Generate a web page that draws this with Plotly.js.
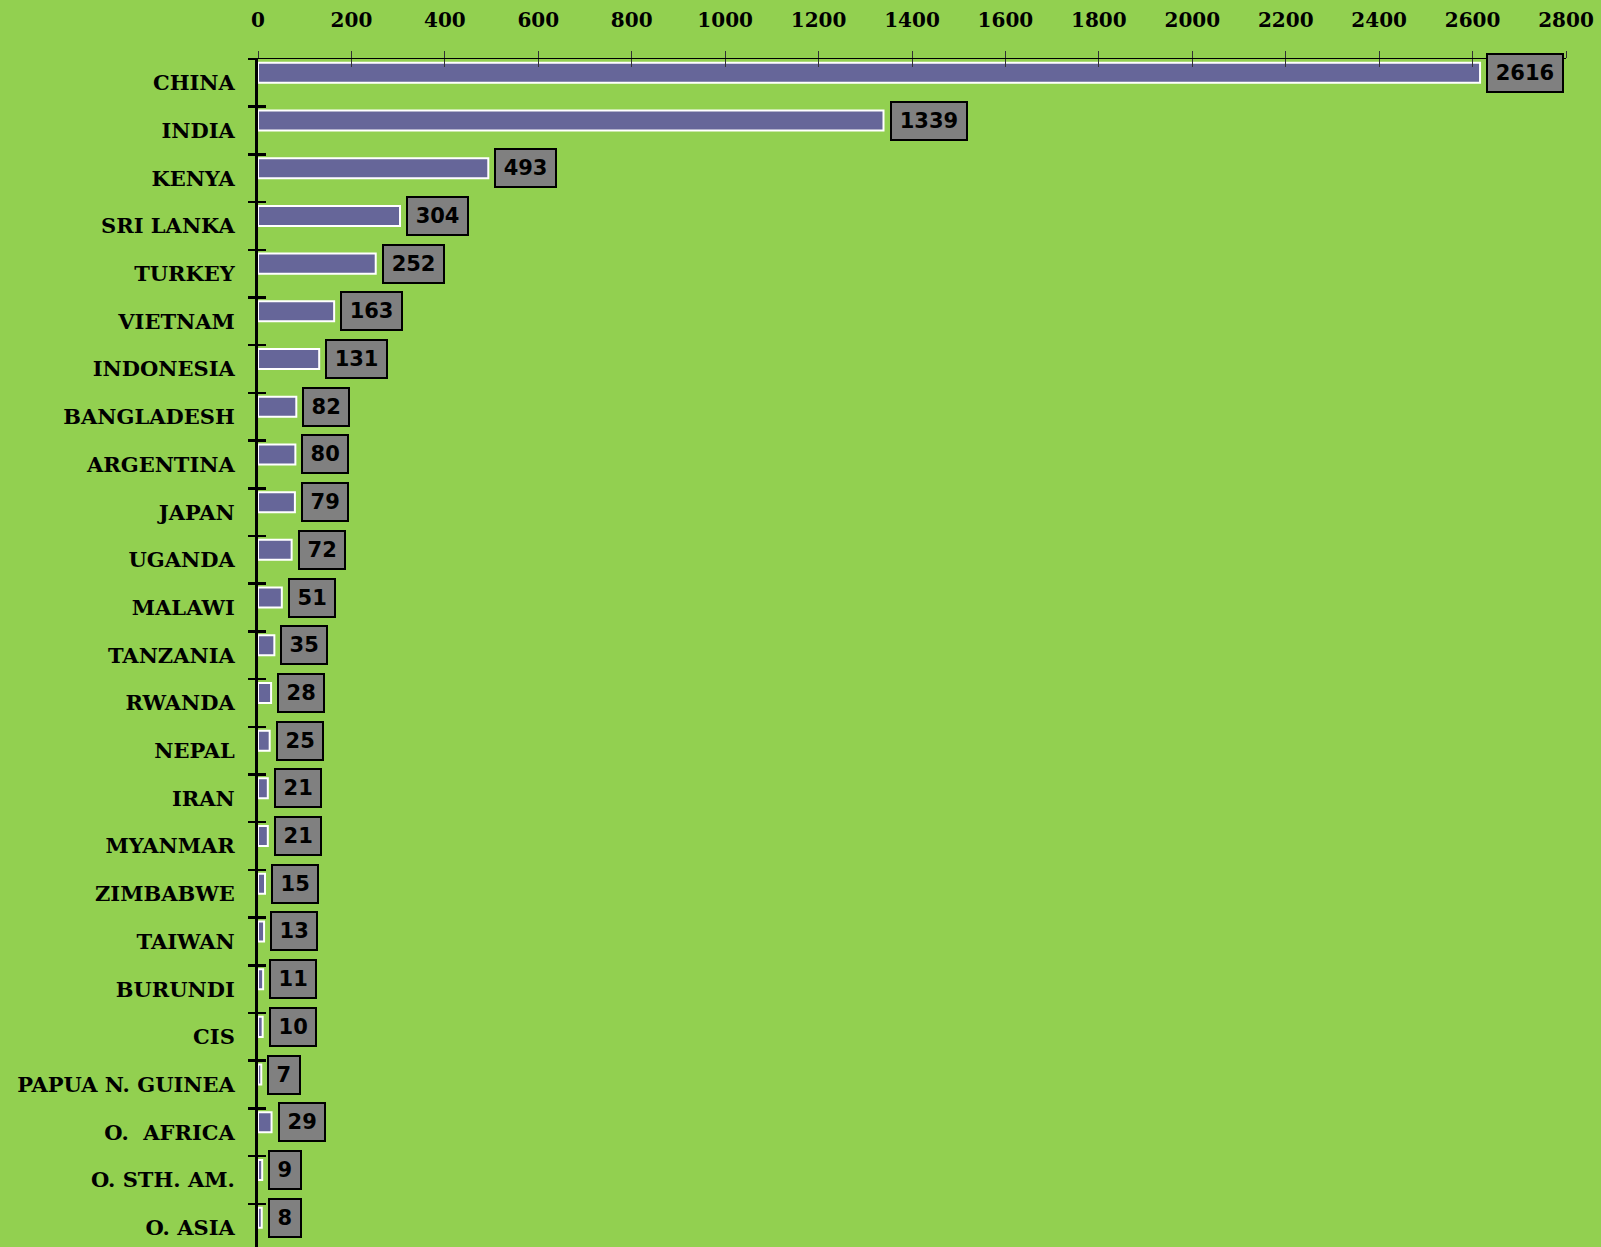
<!DOCTYPE html>
<html>
<head>
<meta charset="utf-8">
<script src="https://cdn.plot.ly/plotly-3.0.1.min.js"></script>
<style>html,body{margin:0;padding:0;background:#92D050;}#chart{width:1601px;height:1247px;}</style>
</head>
<body>
<div id="chart"></div>
<script>
const countries = ["CHINA","INDIA","KENYA","SRI LANKA","TURKEY","VIETNAM","INDONESIA","BANGLADESH","ARGENTINA","JAPAN","UGANDA","MALAWI","TANZANIA","RWANDA","NEPAL","IRAN","MYANMAR","ZIMBABWE","TAIWAN","BURUNDI","CIS","PAPUA N. GUINEA","O.  AFRICA","O. STH. AM.","O. ASIA"];
const values = [2616,1339,493,304,252,163,131,82,80,79,72,51,35,28,25,21,21,15,13,11,10,7,29,9,8];
const xTickValues = [0,200,400,600,800,1000,1200,1400,1600,1800,2000,2200,2400,2600,2800];

const bg = "#92D050";
const yRange = [24.405, -0.5];
const xRange = [0, 2800];

const bars = {
  type: "bar", orientation: "h",
  x: values, y: countries,
  width: 0.42, offset: -0.42,
  marker: {color: "#666699", line: {color: "#ffffff", width: 2}},
  hoverinfo: "skip", xaxis: "x", yaxis: "y"
};
const ghost = {
  type: "bar", orientation: "h",
  x: values, y: countries,
  width: 0.42, offset: -0.42,
  marker: {color: "rgba(0,0,0,0)"},
  hoverinfo: "skip", xaxis: "x2", yaxis: "y2"
};

const annotations = values.map((v, i) => ({
  x: v, y: countries[i], xref: "x", yref: "y",
  text: String(v), showarrow: false,
  xanchor: "left", yanchor: "middle", xshift: 6, yshift: 10,
  font: {family: "DejaVu Sans", size: 21, color: "#000", weight: 700},
  bgcolor: "#808080", bordercolor: "#000", borderwidth: 2, borderpad: 6,
  width: String(v).length * 14.7 + 3
}));

const layout = {
  width: 1601, height: 1247,
  paper_bgcolor: bg, plot_bgcolor: bg,
  showlegend: false,
  margin: {l: 258, r: 35, t: 59, b: 0, pad: 0},
  xaxis: {
    side: "top", range: xRange, tickvals: xTickValues,
    ticktext: xTickValues.map(String),
    showgrid: false, zeroline: false,
    showline: true, linecolor: "#000", linewidth: 1.5,
    ticks: "outside", ticklen: 7, tickwidth: 1, tickcolor: "#333",
    ticklabelstandoff: 16,
    tickfont: {family: "DejaVu Serif", size: 20, color: "#000", weight: 700},
    automargin: false, fixedrange: true
  },
  xaxis2: {
    overlaying: "x", side: "top", range: xRange, tickvals: xTickValues,
    showticklabels: false, showgrid: false, zeroline: false, showline: false,
    ticks: "inside", ticklen: 8, tickwidth: 1, tickcolor: "#333",
    automargin: false, anchor: "y2"
  },
  yaxis: {
    type: "category", categoryorder: "array", categoryarray: countries,
    range: yRange, tickson: "boundaries",
    showgrid: false, zeroline: false,
    showline: true, linecolor: "#000", linewidth: 3,
    ticks: "outside", ticklen: 7, tickwidth: 2.5, tickcolor: "#000",
    ticklabelstandoff: 16,
    tickfont: {family: "DejaVu Serif", size: 21, color: "#000", weight: 700},
    automargin: false, fixedrange: true
  },
  yaxis2: {
    type: "category", categoryorder: "array", categoryarray: countries,
    overlaying: "y", range: yRange, tickson: "boundaries",
    showticklabels: false, showgrid: false, zeroline: false, showline: false,
    ticks: "inside", ticklen: 8, tickwidth: 2.5, tickcolor: "#000",
    automargin: false, anchor: "x2"
  },
  bargap: 0.2,
  annotations: annotations
};

Plotly.newPlot("chart", [ghost, bars], layout, {displayModeBar: false, staticPlot: true});
</script>
</body>
</html>
